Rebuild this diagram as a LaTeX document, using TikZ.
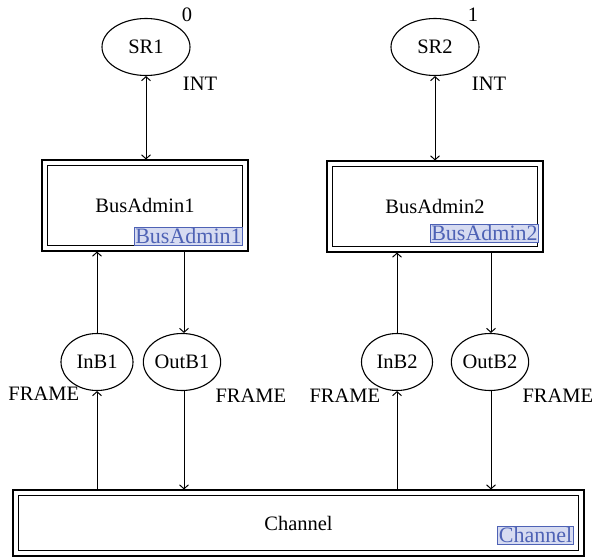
\documentclass[tikz,border=0pt]{standalone}
\usepackage{fontspec}
\setmainfont{Liberation Serif}
\usetikzlibrary{positioning,shapes.geometric,arrows.meta}

\definecolor{tagblue}{HTML}{4E62B5}
\definecolor{tagfill}{HTML}{D6DBF1}

\begin{document}
\begin{tikzpicture}[x=1pt,y=1pt,>={Straight Barb[length=4pt,width=9pt]},line width=1pt,
    font=\fontsize{20.5}{24}\selectfont,
    place/.style={ellipse,draw,line width=1.1pt,minimum height=57pt,inner sep=0pt},
    proc/.style={rectangle,draw,line width=1.1pt,inner sep=0pt,
      path picture={\draw[line width=1.1pt] ([shift={(5.5pt,5.5pt)}]path picture bounding box.south west)
        rectangle ([shift={(-5.5pt,-5.5pt)}]path picture bounding box.north east);}},
    tag/.style={draw=tagblue,fill=tagfill,text=tagblue,line width=0.8pt,inner xsep=1pt,inner ysep=1pt,
      anchor=south east,font=\fontsize{22}{24}\selectfont},
    lbl/.style={inner sep=0pt}]
    \useasboundingbox (0,0) rectangle (593,558);

    % places at the top
    \node[place,minimum width=88pt] (SR1) at (146,511) {SR1};
    \node[place,minimum width=88pt] (SR2) at (435,511) {SR2};
    \node[lbl] (m1) at (187,543) {0};
    \node[lbl] (m2) at (473,543) {1};
    \node[lbl] (int1) at (200,474) {INT};
    \node[lbl] (int2) at (489,474) {INT};

    % substitution transitions
    \node[proc,minimum width=206pt,minimum height=91pt] (BA1) at (145,352.5) {BusAdmin1};
    \node[proc,minimum width=216pt,minimum height=91pt] (BA2) at (435,351.5) {BusAdmin2};
    \node[proc,minimum width=571pt,minimum height=66pt] (Ch) at (298.5,35) {Channel};
    \node[tag] (tBA1) at ([shift={(-5.5,6)}]BA1.south east) {BusAdmin1};
    \node[tag] (tBA2) at ([shift={(-4.5,10)}]BA2.south east) {BusAdmin2};
    \node[tag] (tCh) at ([shift={(-11,12)}]Ch.south east) {Channel};

    % buffer places
    \node[place,minimum width=72pt] (InB1) at (97,196) {InB1};
    \node[place,minimum width=64pt] (OutB1) at (182,196) {OutB1};
    \node[place,minimum width=71pt] (InB2) at (397,196) {InB2};
    \node[place,minimum width=65pt] (OutB2) at (490,196) {OutB2};
    \node[lbl,anchor=west] (f1) at (8,164) {FRAME};
    \node[lbl,anchor=west] (f2) at (215,162) {FRAME};
    \node[lbl,anchor=west] (f3) at (309,162) {FRAME};
    \node[lbl,anchor=west] (f4) at (522,162) {FRAME};

    % arcs
    \draw[<->] (SR1) -- (SR1 |- BA1.north);
    \draw[<->] (SR2) -- (SR2 |- BA2.north);
    \draw[->] (InB1) -- (InB1 |- BA1.south);
    \draw[->] ([xshift=2pt]OutB1.north |- BA1.south) -- ([xshift=2pt]OutB1.north);
    \draw[->] (InB2) -- (InB2 |- BA2.south);
    \draw[->] ([xshift=1pt]OutB2.north |- BA2.south) -- ([xshift=1pt]OutB2.north);
    \draw[->] (InB1 |- Ch.north) -- (InB1);
    \draw[->] ([xshift=2pt]OutB1.south) -- ([xshift=2pt]OutB1.south |- Ch.north);
    \draw[->] (InB2 |- Ch.north) -- (InB2);
    \draw[->] ([xshift=1pt]OutB2.south) -- ([xshift=1pt]OutB2.south |- Ch.north);
\end{tikzpicture}
\end{document}
